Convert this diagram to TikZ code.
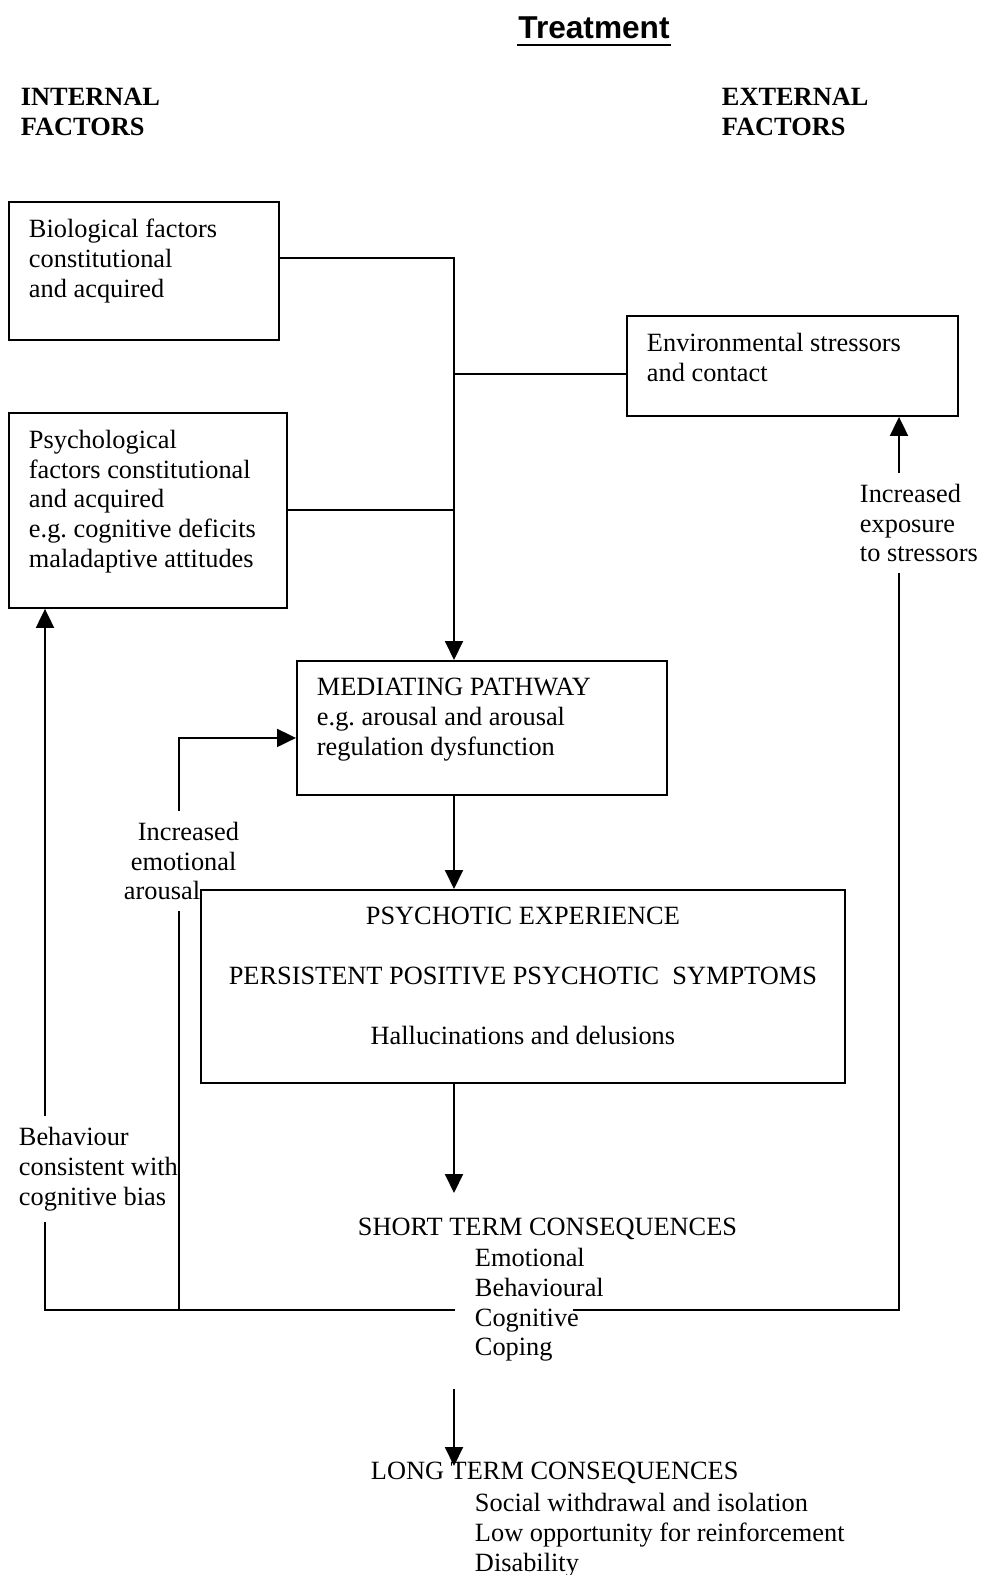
\documentclass[tikz,border=0pt]{standalone}
\usepackage{fontspec}
\setmainfont{Liberation Serif}
\newfontfamily\titlefont{Liberation Sans}
\usetikzlibrary{arrows.meta, positioning}
\frenchspacing

\begin{document}
\begin{tikzpicture}[x=0.02cm, y=-0.02cm, >={Triangle[length=0.38cm, width=0.36cm]},
    line width=1.1pt, font=\fontsize{15}{17}\selectfont,
    box/.style={draw, anchor=north west, inner xsep=0.4cm, inner ysep=0.34cm},
    lbl/.style={anchor=north west, inner xsep=0pt, inner ysep=0.2cm, align=left},
    txt/.style={anchor=north west, inner sep=0pt, align=left},
    head/.style={txt, font=\fontsize{15}{17}\selectfont\bfseries}]

    \useasboundingbox (0,0) rectangle (985,1575);

    \node[inner xsep=0pt, inner ysep=0.1cm, font=\titlefont\fontsize{18}{20}\selectfont\bfseries] (title) at (594,28) {Treatment};
    \draw[line width=1.6pt] (title.south west) -- (title.south east);

    \node[head] (internal) at (20,87) {INTERNAL\\FACTORS};
    \node[head] (external) at (721,87) {EXTERNAL\\FACTORS};

    \node[box] (bio) at (8,201) {\parbox[c][2.08cm][t]{4.6cm}{Biological factors\\constitutional\\and acquired}};
    \node[box] (psych) at (8,412) {\parbox[c][3.22cm][t]{4.76cm}{Psychological\\factors constitutional\\and acquired\\e.g. cognitive deficits\\maladaptive attitudes}};
    \node[box] (env) at (626,315) {\parbox[c][1.32cm][t]{5.82cm}{Environmental stressors\\and contact}};
    \node[box] (med) at (296,660) {\parbox[c][2.0cm][t]{6.6cm}{MEDIATING PATHWAY\\e.g. arousal and arousal\\regulation dysfunction}};
    \node[box] (psy) at (200,889) {\parbox[c][3.18cm][t]{12.08cm}{\centering PSYCHOTIC EXPERIENCE\\[0.6cm]PERSISTENT POSITIVE PSYCHOTIC\ \ SYMPTOMS\\[0.6cm]Hallucinations and delusions}};

    \node[lbl] (expo) at (859,473) {Increased\\exposure\\to stressors};
    \node[lbl] (emo) at (123,811) {\hspace*{0.28cm}Increased\\\hspace*{0.14cm}emotional\\arousal};
    \node[lbl] (beh) at (18,1116) {Behaviour\\consistent with\\cognitive bias};

    \node[txt] (stc) at (357,1217) {SHORT TERM CONSEQUENCES};
    \node[txt] (sti) at (474,1247) {Emotional\\Behavioural\\Cognitive\\Coping};
    \node[txt] (ltc) at (370,1461) {LONG TERM CONSEQUENCES};
    \node[txt] (lti) at (474,1492) {Social withdrawal and isolation\\Low opportunity for reinforcement\\Disability};

    \coordinate (trunk) at (454,258);
    \coordinate (envj) at (454,374);
    \coordinate (st-in) at (454,1193);
    \coordinate (lt-from) at (454,1389);
    \coordinate (lt-to) at (454,1466);
    \coordinate (jc) at (455,1310);
    \coordinate (cogend) at (573,1310);
    \coordinate (jl) at (45,1310);
    \coordinate (jm) at (179,1310);
    \coordinate (jr) at (899,1310);

    % factors into the mediating pathway
    \draw[->] (bio.east |- trunk) -- (trunk) -- (med.north -| trunk);
    \draw (env.west |- envj) -- (envj);
    \draw (psych.east) -- (psych.east -| trunk);

    % main chain
    \draw[->] (med.south -| trunk) -- (psy.north -| trunk);
    \draw[->] (psy.south -| trunk) -- (st-in);
    \draw[->] (lt-from) -- (lt-to);

    % feedback loops
    \draw (jc) -| (beh.south -| jl);
    \draw[->] (beh.north -| jl) -- (psych.south -| jl);
    \draw (jm) -- (emo.south -| jm);
    \draw[->] (emo.north -| jm) |- ([yshift=-0.2cm]med.west);
    \draw (cogend) -| (expo.south -| jr);
    \draw[->] (expo.north -| jr) -- (env.south -| jr);

\end{tikzpicture}
\end{document}
